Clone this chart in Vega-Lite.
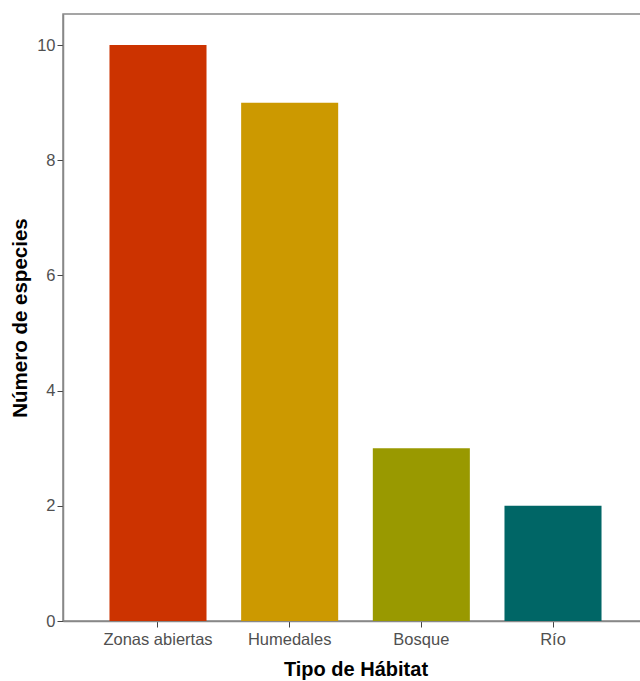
{
  "$schema": "https://vega.github.io/schema/vega-lite/v6.json",
  "autosize": {"type": "none"},
  "padding": {"left": 63, "top": 14, "right": 0, "bottom": 60},
  "width": 585,
  "height": 607,
  "background": "white",
  "config": {
    "font": "Liberation Sans",
    "view": {"stroke": "#888888", "strokeWidth": 1.5}
  },
  "data": {
    "values": [
      {"habitat": "Zonas abiertas", "especies": 10},
      {"habitat": "Humedales", "especies": 9},
      {"habitat": "Bosque", "especies": 3},
      {"habitat": "Río", "especies": 2}
    ]
  },
  "mark": {"type": "bar"},
  "encoding": {
    "x": {
      "field": "habitat",
      "type": "nominal",
      "sort": null,
      "scale": {"paddingInner": 0.263, "paddingOuter": 0.353},
      "axis": {
        "title": "Tipo de Hábitat",
        "titleFontSize": 20,
        "titleFontWeight": "bold",
        "titleColor": "#000000",
        "titlePadding": 12,
        "labelAngle": 0,
        "labelFontSize": 16.5,
        "labelColor": "#505050",
        "labelPadding": 4,
        "tickColor": "#444444",
        "tickSize": 6,
        "domainColor": "#888888",
        "domainWidth": 1.5,
        "grid": false
      }
    },
    "y": {
      "field": "especies",
      "type": "quantitative",
      "scale": {"domain": [0, 10.54], "nice": false},
      "axis": {
        "title": "Número de especies",
        "values": [0, 2, 4, 6, 8, 10],
        "titleFontSize": 20.5,
        "titleFontWeight": "bold",
        "titleColor": "#000000",
        "titlePadding": 6,
        "labelFontSize": 16.5,
        "labelColor": "#505050",
        "labelPadding": 2,
        "tickColor": "#444444",
        "tickSize": 6,
        "domainColor": "#888888",
        "domainWidth": 1.5,
        "grid": false
      }
    },
    "color": {
      "field": "habitat",
      "type": "nominal",
      "sort": null,
      "scale": {
        "domain": ["Zonas abiertas", "Humedales", "Bosque", "Río"],
        "range": ["#CC3300", "#CC9900", "#999900", "#006666"]
      },
      "legend": null
    }
  }
}
